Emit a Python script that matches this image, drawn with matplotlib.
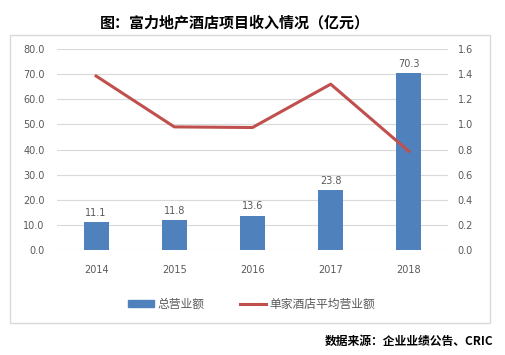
import matplotlib.pyplot as plt
from matplotlib.patches import Rectangle
from matplotlib.lines import Line2D

plt.rcParams["font.family"] = ["Noto Sans CJK SC", "DejaVu Sans"]

years = ["2014", "2015", "2016", "2017", "2018"]
total_revenue = [11.1, 11.8, 13.6, 23.8, 70.3]
avg_per_hotel = [1.385, 0.98, 0.975, 1.32, 0.785]
left_ticks = [0, 10, 20, 30, 40, 50, 60, 70, 80]
right_ticks = [0, 0.2, 0.4, 0.6, 0.8, 1.0, 1.2, 1.4, 1.6]

BAR = "#4F81BD"
LINE = "#C0504D"
TXT = "#595959"
GRID = "#D9D9D9"
NUM_FONT = ["DejaVu Sans"]

fig = plt.figure(figsize=(5.05, 3.55), dpi=100)
fig.patches.append(Rectangle((10 / 505, 1 - 323 / 355), 480 / 505, 288 / 355,
                             transform=fig.transFigure, fill=False,
                             edgecolor="#D9D9D9", linewidth=1.0))

ax = fig.add_axes([57 / 505, 1 - 250 / 355, 391 / 505, 201 / 355])
ax2 = ax.twinx()

x = range(len(years))
ax.bar(x, total_revenue, width=0.32, color=BAR, zorder=3)
for xi, v in zip(x, total_revenue):
    ax.text(xi, v + 1.8, f"{v:.1f}", ha="center", va="bottom", fontsize=7,
            color=TXT, family=NUM_FONT)

ax2.plot(list(x), avg_per_hotel, color=LINE, linewidth=2.2, zorder=4)

ax.set_xlim(-0.5, len(years) - 0.5)
ax.set_ylim(0, 80)
ax.set_yticks(left_ticks)
ax.set_yticklabels([f"{t:.1f}" for t in left_ticks], family=NUM_FONT)
ax2.set_ylim(0, 1.6)
ax2.set_yticks(right_ticks)
ax2.set_yticklabels([f"{t:.1f}" for t in right_ticks], family=NUM_FONT)
ax.set_xticks(list(x))
ax.set_xticklabels(years, family=NUM_FONT)

ax.grid(True, axis="y", color=GRID, linewidth=0.8, zorder=0)
for a in (ax, ax2):
    for s in a.spines.values():
        s.set_visible(False)
    a.tick_params(length=0, labelsize=7, labelcolor=TXT)
ax.tick_params(axis="y", pad=9)
ax2.tick_params(axis="y", pad=7)
ax.tick_params(axis="x", pad=11)
ax.set_zorder(ax2.get_zorder() - 1)
ax.patch.set_visible(True)
ax2.patch.set_visible(False)

fig.text(0.465, 1 - 22 / 355, "图：富力地产酒店项目收入情况（亿元）", ha="center", va="center",
         fontsize=10.8, fontweight="bold", color="black")

handles = [Rectangle((0, 0), 1, 1, color=BAR),
           Line2D([0], [0], color=LINE, linewidth=2.2)]
fig.legend(handles, ["总营业额", "单家酒店平均营业额"], loc="center",
           bbox_to_anchor=(252 / 505, 1 - 304 / 355), ncol=2, frameon=False,
           fontsize=8.5, labelcolor=TXT, handlelength=2.2, handleheight=0.6,
           handletextpad=0.3, columnspacing=3.0)

fig.text(493 / 505, 1 - 341 / 355, "数据来源：企业业绩公告、CRIC", ha="right", va="center",
         fontsize=8.5, fontweight="bold", color="black")

fig.savefig("out.png", dpi=100)
